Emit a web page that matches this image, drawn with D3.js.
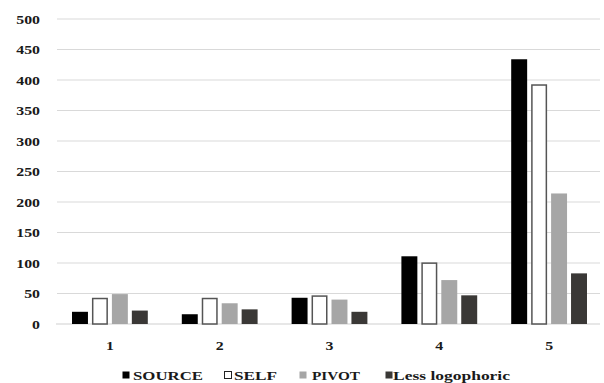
<!DOCTYPE html>
<html><head><meta charset="utf-8">
<script src="https://cdn.jsdelivr.net/npm/d3@7"></script>
<style>
html,body{margin:0;padding:0;background:#fff;}
</style></head>
<body><svg id="c" width="604" height="383"></svg>
<script>
const categories = ["1","2","3","4","5"];
const seriesNames = ["SOURCE","SELF","PIVOT","Less logophoric"];
const sourceValues = [20, 16, 43, 111, 434];
const selfValues = [43, 43, 47, 101, 393];
const pivotValues = [49, 34, 40, 72, 214];
const lessLogophoricValues = [22, 24, 20, 47, 83];
const yTicks = [0,50,100,150,200,250,300,350,400,450,500];

const seriesValues = [sourceValues, selfValues, pivotValues, lessLogophoricValues];
const fills = ["#000000","#ffffff","#a6a6a6","#3a3836"];
const strokes = ["none","#555555","none","none"];
const FONT = "'Liberation Serif', 'Times New Roman', serif";

const svg = d3.select("#c");
const plotLeft = 55, plotRight = 604, plotTop = 19, plotBottom = 324;

const x0 = d3.scaleBand().domain(categories).range([plotLeft, plotRight]).padding(0);
const x1 = d3.scaleBand().domain(seriesNames).range([17, x0.bandwidth()-17]).paddingInner(0.2).paddingOuter(0);
const y = d3.scaleLinear().domain([0,500]).range([plotBottom, plotTop]);

function styleText(sel){
  return sel.style("font-family", FONT).style("font-weight","700").style("fill","#1a1a1a").style("font-size","13px");
}

// gridlines
svg.append("g").selectAll("line").data(yTicks.filter(d=>d>0)).join("line")
  .attr("x1", 57).attr("x2", 600)
  .attr("y1", d=>y(d)).attr("y2", d=>y(d))
  .attr("stroke","#d9d9d9").attr("stroke-width",1);
// baseline
svg.append("line").attr("x1",56).attr("x2",600).attr("y1",y(0)).attr("y2",y(0))
  .attr("stroke","#cfcfcf").attr("stroke-width",1.2);

// y labels
styleText(svg.append("g").selectAll("text").data(yTicks).join("text"))
  .attr("transform", d=>`translate(40,${y(d)+4.5}) scale(1.22,1)`)
  .attr("text-anchor","end").text(d=>d);

// bars
const g = svg.append("g").selectAll("g").data(categories).join("g")
  .attr("transform", d=>`translate(${x0(d)},0)`);
g.selectAll("rect").data((c,ci)=>seriesNames.map((s,si)=>({s, si, v: seriesValues[si][ci]}))).join("rect")
  .attr("x", d=>x1(d.s) + (d.si===1?0.75:0))
  .attr("width", d=>x1.bandwidth() - (d.si===1?1.5:0))
  .attr("y", d=>y(d.v) + (d.si===1?0.75:0))
  .attr("height", d=>y(0)-y(d.v) - (d.si===1?0.75:0))
  .attr("fill", d=>fills[d.si])
  .attr("stroke", d=>strokes[d.si])
  .attr("stroke-width", 1.5);

// x labels
styleText(svg.append("g").selectAll("text").data(categories).join("text"))
  .attr("transform", d=>`translate(${x0(d)+x0.bandwidth()/2},350) scale(1.22,1)`)
  .attr("text-anchor","middle").text(d=>d);

// legend
const legX = [122, 224, 299, 385];
const legTextX = [133, 234, 312, 393];
const legW = [70, 43, 48, 117];
const lg = svg.append("g");
seriesNames.forEach((s,i)=>{
  lg.append("rect").attr("x",legX[i]+0.5).attr("y",371.5).attr("width",7).attr("height",7)
    .attr("fill",fills[i]).attr("stroke", i===1?"#222":"none").attr("stroke-width",1);
  styleText(lg.append("text")).attr("x",legTextX[i]).attr("y",380)
    .attr("textLength",legW[i]).attr("lengthAdjust","spacingAndGlyphs").text(s);
});
</script></body></html>
